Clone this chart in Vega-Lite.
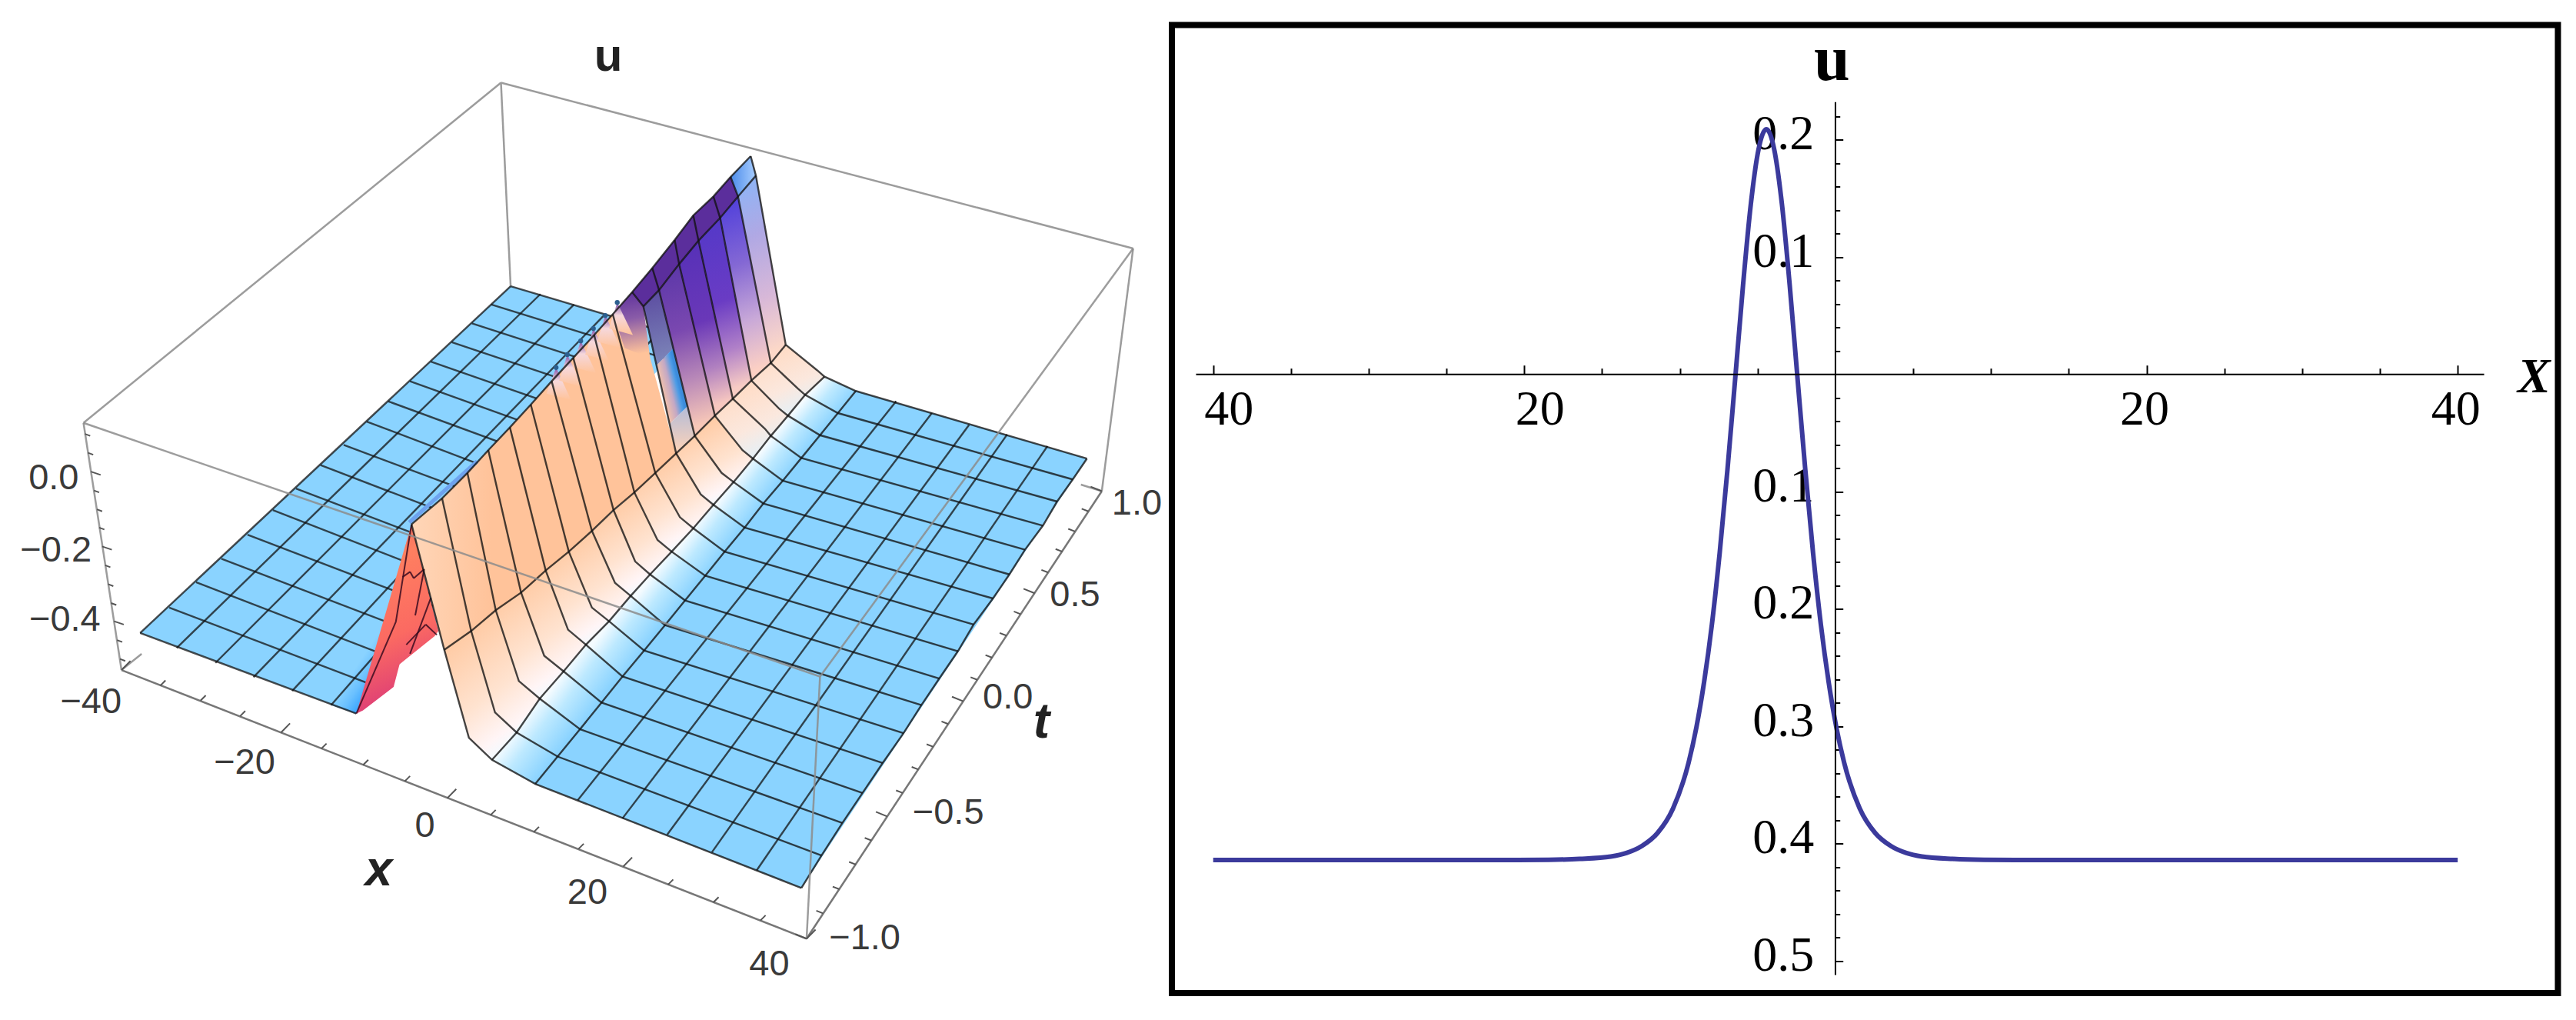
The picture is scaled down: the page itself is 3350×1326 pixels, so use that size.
{
"$schema":"https://vega.github.io/schema/vega-lite/v6.json",
"background":"white",
"padding":{"left":0,"top":28.5,"right":0,"bottom":0},
"spacing":-4,
"config":{"view":{"stroke":null}},
"datasets":{
"box":[
{"k":"b","h":672,"v":127,"h2":1520,"v2":382},
{"k":"b","h":672,"v":127,"h2":112,"v2":650},
{"k":"b","h":672,"v":127,"h2":685,"v2":440},
{"k":"b","h":1520,"v":382,"h2":1478,"v2":755},
{"k":"b","h":112,"v":650,"h2":163,"v2":1030},
{"k":"b","h":163,"v":1030,"h2":190,"v2":1005},
{"k":"b","h":1478,"v":755,"h2":1450,"v2":745},
{"k":"d","h":163,"v":1030,"h2":1082,"v2":1443},
{"k":"d","h":1082,"v":1443,"h2":1478,"v2":755},
{"k":"f","h":112,"v":650,"h2":1100,"v2":1040},
{"k":"f","h":1520,"v":382,"h2":1100,"v2":1040},
{"k":"f","h":1100,"v":1040,"h2":1082,"v2":1443}
],
"ticks":[
{"h":163,"v":1030,"h2":175,"v2":1016},{"h":215,"v":1054,"h2":222,"v2":1046},{"h":269,"v":1077,"h2":276,"v2":1069},{"h":322,"v":1101,"h2":329,"v2":1093},{"h":377,"v":1126,"h2":389,"v2":1112},{"h":431,"v":1151,"h2":438,"v2":1143},{"h":487,"v":1176,"h2":494,"v2":1168},{"h":543,"v":1201,"h2":550,"v2":1193},{"h":600,"v":1227,"h2":612,"v2":1213},{"h":658,"v":1253,"h2":665,"v2":1245},{"h":716,"v":1279,"h2":723,"v2":1271},{"h":776,"v":1305,"h2":783,"v2":1297},{"h":836,"v":1332,"h2":848,"v2":1318},{"h":896,"v":1360,"h2":903,"v2":1352},{"h":957,"v":1387,"h2":964,"v2":1379},{"h":1020,"v":1415,"h2":1027,"v2":1407},{"h":1082,"v":1443,"h2":1094,"v2":1429},
{"h":1082,"v":1443,"h2":1067,"v2":1436},{"h":1104,"v":1404,"h2":1095,"v2":1400},{"h":1126,"v":1367,"h2":1117,"v2":1363},{"h":1148,"v":1329,"h2":1139,"v2":1325},{"h":1169,"v":1292,"h2":1160,"v2":1288},{"h":1190,"v":1255,"h2":1175,"v2":1248},{"h":1211,"v":1219,"h2":1202,"v2":1215},{"h":1232,"v":1183,"h2":1223,"v2":1179},{"h":1252,"v":1148,"h2":1243,"v2":1144},{"h":1272,"v":1113,"h2":1263,"v2":1109},{"h":1292,"v":1078,"h2":1277,"v2":1071},{"h":1311,"v":1045,"h2":1302,"v2":1041},{"h":1331,"v":1011,"h2":1322,"v2":1007},{"h":1350,"v":977,"h2":1341,"v2":973},{"h":1369,"v":944,"h2":1360,"v2":940},{"h":1388,"v":912,"h2":1373,"v2":905},{"h":1406,"v":880,"h2":1397,"v2":876},{"h":1425,"v":848,"h2":1416,"v2":844},{"h":1442,"v":817,"h2":1433,"v2":813},{"h":1460,"v":786,"h2":1451,"v2":782},{"h":1478,"v":755,"h2":1463,"v2":748},
{"h":114,"v":667,"h2":121,"v2":670},{"h":118,"v":696,"h2":125,"v2":699},{"h":122,"v":725,"h2":135,"v2":730},{"h":126,"v":754,"h2":133,"v2":757},{"h":130,"v":783,"h2":137,"v2":786},{"h":133,"v":811,"h2":140,"v2":814},{"h":137,"v":840,"h2":150,"v2":845},{"h":141,"v":869,"h2":148,"v2":872},{"h":145,"v":898,"h2":152,"v2":901},{"h":149,"v":927,"h2":156,"v2":930},{"h":153,"v":955,"h2":166,"v2":960},{"h":157,"v":984,"h2":164,"v2":987},{"h":161,"v":1013,"h2":168,"v2":1016}
],
"flatlines":[
{"h":188,"v":973,"h2":478,"v2":1097},{"h":227,"v":934,"h2":509,"v2":1057},{"h":263,"v":895,"h2":539,"v2":1017},{"h":297,"v":859,"h2":569,"v2":978},{"h":332,"v":822,"h2":599,"v2":939},{"h":366,"v":784,"h2":628,"v2":901},{"h":397,"v":751,"h2":656,"v2":864},{"h":430,"v":715,"h2":685,"v2":827},{"h":461,"v":684,"h2":712,"v2":791},{"h":492,"v":648,"h2":740,"v2":756},{"h":521,"v":617,"h2":766,"v2":720},{"h":550,"v":586,"h2":793,"v2":686},{"h":578,"v":556,"h2":819,"v2":652},{"h":606,"v":526,"h2":845,"v2":618},{"h":633,"v":497,"h2":870,"v2":585},{"h":659,"v":468,"h2":895,"v2":552},{"h":685,"v":440,"h2":920,"v2":520},
{"h":188,"v":973,"h2":685,"v2":440},{"h":237,"v":996,"h2":725,"v2":452},{"h":289,"v":1019,"h2":770,"v2":468},{"h":340,"v":1041,"h2":810,"v2":485},{"h":392,"v":1062,"h2":850,"v2":497},{"h":444,"v":1084,"h2":885,"v2":508},
{"h":775,"v":1230,"h2":1202,"v2":617},{"h":835,"v":1258,"h2":1250,"v2":635},{"h":895,"v":1283,"h2":1300,"v2":653},{"h":955,"v":1310,"h2":1351,"v2":668},{"h":1015,"v":1338,"h2":1405,"v2":686}
],
"redlines":[
{"h":540,"v":887,"h2":550,"v2":879},{"h":550,"v":879,"h2":555,"v2":889},{"h":555,"v":889,"h2":569,"v2":875},{"h":569,"v":875,"h2":557,"v2":946},{"h":578,"v":919,"h2":550,"v2":1005},{"h":545,"v":991,"h2":571,"v2":960},{"h":571,"v":960,"h2":586,"v2":976},{"h":478,"v":1097,"h2":531,"v2":956},{"h":531,"v":956,"h2":552,"v2":806}
],
"tips":[{"h":746,"v":565},{"h":761,"v":545},{"h":779,"v":524},{"h":796,"v":505},{"h":812,"v":485},{"h":828,"v":465}],
"strip":[{"h":549,"v":803,"h2":640,"v2":709}],
"mesh":[
{"i":0,"l":1,"h":552,"v":806},{"i":1,"l":1,"h":593,"v":766},{"i":2,"l":1,"h":627,"v":727},{"i":3,"l":1,"h":655,"v":692},{"i":4,"l":1,"h":684,"v":657},{"i":5,"l":1,"h":712,"v":622},{"i":6,"l":1,"h":740,"v":586},{"i":7,"l":1,"h":769,"v":550},{"i":8,"l":1,"h":797,"v":515},{"i":9,"l":1,"h":822,"v":483},{"i":10,"l":1,"h":848,"v":449},{"i":11,"l":1,"h":875,"v":412},{"i":12,"l":1,"h":905,"v":369},{"i":13,"l":1,"h":930,"v":331},{"i":14,"l":1,"h":957,"v":302},{"i":15,"l":1,"h":980,"v":272},{"i":16,"l":1,"h":1007,"v":240},
{"i":10,"l":2,"h":863,"v":471},{"i":11,"l":2,"h":884,"v":446},{"i":12,"l":2,"h":911,"v":406},{"i":13,"l":2,"h":937,"v":370},{"i":14,"l":2,"h":966,"v":335},{"i":15,"l":2,"h":990,"v":302},{"i":16,"l":2,"h":1014,"v":270},
{"i":0,"l":3,"h":596,"v":999},{"i":1,"l":3,"h":632,"v":970},{"i":2,"l":3,"h":665,"v":938},{"i":3,"l":3,"h":699,"v":911},{"i":4,"l":3,"h":732,"v":877},{"i":5,"l":3,"h":763,"v":848},{"i":6,"l":3,"h":794,"v":816},{"i":7,"l":3,"h":823,"v":784},{"i":8,"l":3,"h":851,"v":757},{"i":9,"l":3,"h":879,"v":727},{"i":10,"l":3,"h":907,"v":697},{"i":11,"l":3,"h":932,"v":670},{"i":12,"l":3,"h":959,"v":639},{"i":13,"l":3,"h":983,"v":613},{"i":14,"l":3,"h":1008,"v":585},{"i":15,"l":3,"h":1034,"v":558},{"i":16,"l":3,"h":1054,"v":530},
{"i":0,"l":4,"h":629,"v":1134},{"i":1,"l":4,"h":664,"v":1095},{"i":2,"l":4,"h":696,"v":1047},{"i":3,"l":4,"h":730,"v":1008},{"i":4,"l":4,"h":762,"v":968},{"i":5,"l":4,"h":794,"v":934},{"i":6,"l":4,"h":825,"v":896},{"i":7,"l":4,"h":852,"v":863},{"i":8,"l":4,"h":882,"v":830},{"i":9,"l":4,"h":912,"v":795},{"i":10,"l":4,"h":940,"v":760},{"i":11,"l":4,"h":968,"v":727},{"i":12,"l":4,"h":996,"v":692},{"i":13,"l":4,"h":1026,"v":659},{"i":14,"l":4,"h":1045,"v":628},{"i":15,"l":4,"h":1070,"v":597},{"i":16,"l":4,"h":1096,"v":569},
{"i":0,"l":5,"h":660,"v":1168},{"i":1,"l":5,"h":693,"v":1126},{"i":2,"l":5,"h":724,"v":1074},{"i":3,"l":5,"h":756,"v":1032},{"i":4,"l":5,"h":786,"v":991},{"i":5,"l":5,"h":817,"v":955},{"i":6,"l":5,"h":846,"v":916},{"i":7,"l":5,"h":872,"v":883},{"i":8,"l":5,"h":901,"v":848},{"i":9,"l":5,"h":930,"v":812},{"i":10,"l":5,"h":957,"v":776},{"i":11,"l":5,"h":984,"v":741},{"i":12,"l":5,"h":1010,"v":705},{"i":13,"l":5,"h":1034,"v":670},{"i":14,"l":5,"h":1057,"v":639},{"i":15,"l":5,"h":1080,"v":607},{"i":16,"l":5,"h":1106,"v":579},
{"i":0,"l":6,"h":718,"v":1205},{"i":1,"l":6,"h":748,"v":1163},{"i":2,"l":6,"h":778,"v":1121},{"i":3,"l":6,"h":807,"v":1080},{"i":4,"l":6,"h":835,"v":1040},{"i":5,"l":6,"h":864,"v":1000},{"i":6,"l":6,"h":892,"v":961},{"i":7,"l":6,"h":919,"v":923},{"i":8,"l":6,"h":946,"v":885},{"i":9,"l":6,"h":972,"v":848},{"i":10,"l":6,"h":999,"v":811},{"i":11,"l":6,"h":1024,"v":774},{"i":12,"l":6,"h":1050,"v":739},{"i":13,"l":6,"h":1075,"v":704},{"i":14,"l":6,"h":1100,"v":669},{"i":15,"l":6,"h":1124,"v":635},{"i":16,"l":6,"h":1148,"v":601},
{"i":0,"l":7,"h":1075,"v":1365},{"i":1,"l":7,"h":1102,"v":1315},{"i":2,"l":7,"h":1130,"v":1265},{"i":3,"l":7,"h":1157,"v":1219},{"i":4,"l":7,"h":1184,"v":1173},{"i":5,"l":7,"h":1212,"v":1127},{"i":6,"l":7,"h":1236,"v":1084},{"i":7,"l":7,"h":1260,"v":1043},{"i":8,"l":7,"h":1285,"v":1001},{"i":9,"l":7,"h":1306,"v":960},{"i":10,"l":7,"h":1332,"v":920},{"i":11,"l":7,"h":1354,"v":883},{"i":12,"l":7,"h":1375,"v":845},{"i":13,"l":7,"h":1399,"v":808},{"i":14,"l":7,"h":1418,"v":771},{"i":15,"l":7,"h":1439,"v":737},{"i":16,"l":7,"h":1458,"v":705}
],
"cells":[
{"g":"flatL","p":0,"o":0,"h":188,"v":973},{"g":"flatL","p":0,"o":1,"h":478,"v":1097},{"g":"flatL","p":0,"o":2,"h":920,"v":520},{"g":"flatL","p":0,"o":3,"h":685,"v":440},
{"g":"flatD","p":0,"o":0,"h":444,"v":1084},{"g":"flatD","p":0,"o":1,"h":478,"v":1097},{"g":"flatD","p":0,"o":2,"h":530,"v":960},{"g":"flatD","p":0,"o":3,"h":516,"v":958},
{"g":"flatR","p":0,"o":0,"h":718,"v":1205},{"g":"flatR","p":0,"o":1,"h":1075,"v":1365},{"g":"flatR","p":0,"o":2,"h":1458,"v":705},{"g":"flatR","p":0,"o":3,"h":1148,"v":601},
{"g":"blue","p":0,"o":0,"h":660,"v":1168},{"g":"blue","p":0,"o":1,"h":724,"v":1074},{"g":"blue","p":0,"o":2,"h":778,"v":1121},{"g":"blue","p":0,"o":3,"h":718,"v":1205},
{"g":"blue","p":2,"o":0,"h":724,"v":1074},{"g":"blue","p":2,"o":1,"h":786,"v":991},{"g":"blue","p":2,"o":2,"h":835,"v":1040},{"g":"blue","p":2,"o":3,"h":778,"v":1121},
{"g":"blue","p":4,"o":0,"h":786,"v":991},{"g":"blue","p":4,"o":1,"h":846,"v":916},{"g":"blue","p":4,"o":2,"h":892,"v":961},{"g":"blue","p":4,"o":3,"h":835,"v":1040},
{"g":"blue","p":6,"o":0,"h":846,"v":916},{"g":"blue","p":6,"o":1,"h":901,"v":848},{"g":"blue","p":6,"o":2,"h":946,"v":885},{"g":"blue","p":6,"o":3,"h":892,"v":961},
{"g":"blue","p":8,"o":0,"h":901,"v":848},{"g":"blue","p":8,"o":1,"h":957,"v":776},{"g":"blue","p":8,"o":2,"h":999,"v":811},{"g":"blue","p":8,"o":3,"h":946,"v":885},
{"g":"blue","p":10,"o":0,"h":957,"v":776},{"g":"blue","p":10,"o":1,"h":1010,"v":705},{"g":"blue","p":10,"o":2,"h":1050,"v":739},{"g":"blue","p":10,"o":3,"h":999,"v":811},
{"g":"blue","p":12,"o":0,"h":1010,"v":705},{"g":"blue","p":12,"o":1,"h":1057,"v":639},{"g":"blue","p":12,"o":2,"h":1100,"v":669},{"g":"blue","p":12,"o":3,"h":1050,"v":739},
{"g":"blue","p":14,"o":0,"h":1057,"v":639},{"g":"blue","p":14,"o":1,"h":1106,"v":579},{"g":"blue","p":14,"o":2,"h":1148,"v":601},{"g":"blue","p":14,"o":3,"h":1100,"v":669},
{"g":"low","p":0,"o":0,"h":596,"v":999},{"g":"low","p":0,"o":1,"h":629,"v":1134},{"g":"low","p":0,"o":2,"h":660,"v":1168},{"g":"low","p":0,"o":3,"h":724,"v":1074},{"g":"low","p":0,"o":4,"h":696,"v":1047},{"g":"low","p":0,"o":5,"h":665,"v":938},
{"g":"low","p":2,"o":0,"h":665,"v":938},{"g":"low","p":2,"o":1,"h":696,"v":1047},{"g":"low","p":2,"o":2,"h":724,"v":1074},{"g":"low","p":2,"o":3,"h":786,"v":991},{"g":"low","p":2,"o":4,"h":762,"v":968},{"g":"low","p":2,"o":5,"h":732,"v":877},
{"g":"low","p":4,"o":0,"h":732,"v":877},{"g":"low","p":4,"o":1,"h":762,"v":968},{"g":"low","p":4,"o":2,"h":786,"v":991},{"g":"low","p":4,"o":3,"h":846,"v":916},{"g":"low","p":4,"o":4,"h":825,"v":896},{"g":"low","p":4,"o":5,"h":794,"v":816},
{"g":"low","p":6,"o":0,"h":794,"v":816},{"g":"low","p":6,"o":1,"h":825,"v":896},{"g":"low","p":6,"o":2,"h":846,"v":916},{"g":"low","p":6,"o":3,"h":901,"v":848},{"g":"low","p":6,"o":4,"h":882,"v":830},{"g":"low","p":6,"o":5,"h":851,"v":757},
{"g":"low","p":8,"o":0,"h":851,"v":757},{"g":"low","p":8,"o":1,"h":882,"v":830},{"g":"low","p":8,"o":2,"h":901,"v":848},{"g":"low","p":8,"o":3,"h":957,"v":776},{"g":"low","p":8,"o":4,"h":940,"v":760},{"g":"low","p":8,"o":5,"h":907,"v":697},
{"g":"low","p":10,"o":0,"h":907,"v":697},{"g":"low","p":10,"o":1,"h":940,"v":760},{"g":"low","p":10,"o":2,"h":957,"v":776},{"g":"low","p":10,"o":3,"h":1010,"v":705},{"g":"low","p":10,"o":4,"h":996,"v":692},{"g":"low","p":10,"o":5,"h":959,"v":639},
{"g":"lowB","p":12,"o":0,"h":959,"v":639},{"g":"lowB","p":12,"o":1,"h":996,"v":692},{"g":"lowB","p":12,"o":2,"h":1010,"v":705},{"g":"lowB","p":12,"o":3,"h":1057,"v":639},{"g":"lowB","p":12,"o":4,"h":1045,"v":628},{"g":"lowB","p":12,"o":5,"h":1008,"v":585},
{"g":"lowB","p":14,"o":0,"h":1008,"v":585},{"g":"lowB","p":14,"o":1,"h":1045,"v":628},{"g":"lowB","p":14,"o":2,"h":1057,"v":639},{"g":"lowB","p":14,"o":3,"h":1106,"v":579},{"g":"lowB","p":14,"o":4,"h":1096,"v":569},{"g":"lowB","p":14,"o":5,"h":1054,"v":530},
{"g":"up","p":0,"o":0,"h":552,"v":806},{"g":"up","p":0,"o":1,"h":593,"v":766},{"g":"up","p":0,"o":2,"h":627,"v":727},{"g":"up","p":0,"o":3,"h":655,"v":692},{"g":"up","p":0,"o":4,"h":684,"v":657},{"g":"up","p":0,"o":5,"h":712,"v":622},{"g":"up","p":0,"o":6,"h":740,"v":586},{"g":"up","p":0,"o":7,"h":769,"v":550},{"g":"up","p":0,"o":8,"h":797,"v":515},{"g":"up","p":0,"o":9,"h":822,"v":483},{"g":"up","p":0,"o":10,"h":848,"v":449},{"g":"up","p":0,"o":11,"h":907,"v":697},{"g":"up","p":0,"o":12,"h":879,"v":727},{"g":"up","p":0,"o":13,"h":851,"v":757},{"g":"up","p":0,"o":14,"h":823,"v":784},{"g":"up","p":0,"o":15,"h":794,"v":816},{"g":"up","p":0,"o":16,"h":763,"v":848},{"g":"up","p":0,"o":17,"h":732,"v":877},{"g":"up","p":0,"o":18,"h":699,"v":911},{"g":"up","p":0,"o":19,"h":665,"v":938},{"g":"up","p":0,"o":20,"h":632,"v":970},{"g":"up","p":0,"o":21,"h":596,"v":999},
{"g":"c9","p":0,"o":0,"h":822,"v":483},{"g":"c9","p":0,"o":1,"h":848,"v":449},{"g":"c9","p":0,"o":2,"h":863,"v":471},{"g":"c9","p":0,"o":3,"h":872,"v":550},{"g":"c9","p":0,"o":4,"h":838,"v":535},
{"g":"top","p":0,"o":0,"h":848,"v":449},{"g":"top","p":0,"o":1,"h":875,"v":412},{"g":"top","p":0,"o":2,"h":905,"v":369},{"g":"top","p":0,"o":3,"h":930,"v":331},{"g":"top","p":0,"o":4,"h":957,"v":302},{"g":"top","p":0,"o":5,"h":980,"v":272},{"g":"top","p":0,"o":6,"h":990,"v":302},{"g":"top","p":0,"o":7,"h":966,"v":335},{"g":"top","p":0,"o":8,"h":937,"v":370},{"g":"top","p":0,"o":9,"h":911,"v":406},{"g":"top","p":0,"o":10,"h":884,"v":446},{"g":"top","p":0,"o":11,"h":863,"v":471},
{"g":"top15","p":0,"o":0,"h":980,"v":272},{"g":"top15","p":0,"o":1,"h":1007,"v":240},{"g":"top15","p":0,"o":2,"h":1014,"v":270},{"g":"top15","p":0,"o":3,"h":990,"v":302},
{"g":"c10a","p":0,"o":0,"h":863,"v":471},{"g":"c10a","p":0,"o":1,"h":884,"v":446},{"g":"c10a","p":0,"o":2,"h":903,"v":536},{"g":"c10a","p":0,"o":3,"h":881,"v":561},
{"g":"c10b","p":0,"o":0,"h":881,"v":561},{"g":"c10b","p":0,"o":1,"h":903,"v":536},{"g":"c10b","p":0,"o":2,"h":922,"v":625},{"g":"c10b","p":0,"o":3,"h":898,"v":652},
{"g":"c10c","p":0,"o":0,"h":898,"v":652},{"g":"c10c","p":0,"o":1,"h":922,"v":625},{"g":"c10c","p":0,"o":2,"h":932,"v":670},{"g":"c10c","p":0,"o":3,"h":907,"v":697},
{"g":"c11","p":0,"o":0,"h":884,"v":446},{"g":"c11","p":0,"o":1,"h":911,"v":406},{"g":"c11","p":0,"o":2,"h":959,"v":639},{"g":"c11","p":0,"o":3,"h":932,"v":670},
{"g":"c12","p":0,"o":0,"h":911,"v":406},{"g":"c12","p":0,"o":1,"h":937,"v":370},{"g":"c12","p":0,"o":2,"h":983,"v":613},{"g":"c12","p":0,"o":3,"h":959,"v":639},
{"g":"c13","p":0,"o":0,"h":937,"v":370},{"g":"c13","p":0,"o":1,"h":966,"v":335},{"g":"c13","p":0,"o":2,"h":1008,"v":585},{"g":"c13","p":0,"o":3,"h":983,"v":613},
{"g":"c14","p":0,"o":0,"h":966,"v":335},{"g":"c14","p":0,"o":1,"h":990,"v":302},{"g":"c14","p":0,"o":2,"h":1034,"v":558},{"g":"c14","p":0,"o":3,"h":1008,"v":585},
{"g":"c15","p":0,"o":0,"h":990,"v":302},{"g":"c15","p":0,"o":1,"h":1014,"v":270},{"g":"c15","p":0,"o":2,"h":1054,"v":530},{"g":"c15","p":0,"o":3,"h":1034,"v":558},
{"g":"tooth","p":1,"o":0,"h":746,"v":565},{"g":"tooth","p":1,"o":1,"h":766,"v":615},{"g":"tooth","p":1,"o":2,"h":733,"v":605},
{"g":"tooth","p":2,"o":0,"h":761,"v":545},{"g":"tooth","p":2,"o":1,"h":782,"v":595},{"g":"tooth","p":2,"o":2,"h":750,"v":585},
{"g":"tooth","p":3,"o":0,"h":779,"v":524},{"g":"tooth","p":3,"o":1,"h":800,"v":574},{"g":"tooth","p":3,"o":2,"h":768,"v":564},
{"g":"tooth","p":4,"o":0,"h":796,"v":505},{"g":"tooth","p":4,"o":1,"h":817,"v":555},{"g":"tooth","p":4,"o":2,"h":785,"v":545},
{"g":"tooth","p":5,"o":0,"h":812,"v":485},{"g":"tooth","p":5,"o":1,"h":833,"v":535},{"g":"tooth","p":5,"o":2,"h":801,"v":525},
{"g":"tooth","p":6,"o":0,"h":828,"v":465},{"g":"tooth","p":6,"o":1,"h":849,"v":515},{"g":"tooth","p":6,"o":2,"h":817,"v":505},
{"g":"red","p":0,"o":0,"h":478,"v":1097},{"g":"red","p":0,"o":1,"h":552,"v":806},{"g":"red","p":0,"o":2,"h":588,"v":970},{"g":"red","p":0,"o":3,"h":583,"v":978},{"g":"red","p":0,"o":4,"h":536,"v":1021},{"g":"red","p":0,"o":5,"h":528,"v":1056},{"g":"red","p":0,"o":6,"h":487,"v":1092}
],
"labels":[
{"k":"n","t":"0.0","h":72,"v":735},{"k":"n","t":"−0.2","h":75,"v":847},{"k":"n","t":"−0.4","h":87,"v":953},
{"k":"n","t":"−40","h":122,"v":1080},{"k":"n","t":"−20","h":328,"v":1173},{"k":"n","t":"0","h":570,"v":1270},{"k":"n","t":"20","h":788,"v":1373},{"k":"n","t":"40","h":1032,"v":1483},
{"k":"n","t":"1.0","h":1525,"v":775},{"k":"n","t":"0.5","h":1442,"v":915},{"k":"n","t":"0.0","h":1352,"v":1073},{"k":"n","t":"−0.5","h":1272,"v":1250},{"k":"n","t":"−1.0","h":1160,"v":1443},
{"k":"a","t":"x","h":508,"v":1338},{"k":"a","t":"t","h":1397,"v":1112},
{"k":"u","t":"u","h":816,"v":88}
],
"curve":[
{"x":-40,"u":-0.414},{"x":-30,"u":-0.414},{"x":-20.44,"u":-0.414},{"x":-18.44,"u":-0.4138},{"x":-16.44,"u":-0.413},{"x":-14.44,"u":-0.411},{"x":-13.44,"u":-0.408},{"x":-12.44,"u":-0.402},{"x":-11.44,"u":-0.391},{"x":-10.44,"u":-0.37},{"x":-9.44,"u":-0.331},{"x":-8.94,"u":-0.301},{"x":-8.44,"u":-0.262},{"x":-7.94,"u":-0.213},{"x":-7.44,"u":-0.152},{"x":-6.94,"u":-0.081},{"x":-6.44,"u":-0.003},{"x":-5.94,"u":0.076},{"x":-5.44,"u":0.145},{"x":-4.94,"u":0.192},{"x":-4.44,"u":0.209},{"x":-3.94,"u":0.192},{"x":-3.44,"u":0.145},{"x":-2.94,"u":0.076},{"x":-2.44,"u":-0.003},{"x":-1.94,"u":-0.081},{"x":-1.44,"u":-0.152},{"x":-0.94,"u":-0.213},{"x":-0.44,"u":-0.262},{"x":0.06,"u":-0.301},{"x":0.56,"u":-0.331},{"x":1.56,"u":-0.37},{"x":2.56,"u":-0.391},{"x":3.56,"u":-0.402},{"x":4.56,"u":-0.408},{"x":5.56,"u":-0.411},{"x":7.56,"u":-0.413},{"x":9.56,"u":-0.4138},{"x":11.56,"u":-0.414},{"x":20,"u":-0.414},{"x":30,"u":-0.414},{"x":40,"u":-0.414}
]
},
"hconcat":[
{
"width":1524,"height":1258.5,
"view":{"stroke":null},
"encoding":{
"x":{"field":"h","type":"quantitative","scale":{"domain":[0,1572],"nice":false,"zero":false},"axis":null},
"y":{"field":"v","type":"quantitative","scale":{"domain":[1526.6,38.4],"nice":false,"zero":false},"axis":null}
},
"layer":[
{"data":{"name":"box"},"transform":[{"filter":"datum.k==='b'"}],"mark":{"type":"rule","stroke":"#9c9c9c","strokeWidth":2.5},"encoding":{"x2":{"field":"h2"},"y2":{"field":"v2"}}},
{"data":{"name":"box"},"transform":[{"filter":"datum.k==='d'"}],"mark":{"type":"rule","stroke":"#777777","strokeWidth":2.5},"encoding":{"x2":{"field":"h2"},"y2":{"field":"v2"}}},
{"data":{"name":"cells"},"transform":[{"filter":"datum.g==='flatL'"}],"mark":{"type":"line","fill":"#8AD3FF","stroke":null},"encoding":{"detail":{"field":"p","type":"nominal"},"order":{"field":"o","type":"quantitative"}}},
{"data":{"name":"cells"},"transform":[{"filter":"datum.g==='flatD'"}],"mark":{"type":"line","stroke":null,"fill":{"gradient":"linear","x1":0,"y1":0.9,"x2":0.264,"y2":1.146,"stops":[{"offset":0,"color":"#8AD3FF"},{"offset":0.5,"color":"#6AC0FF"},{"offset":1,"color":"#38A4FF"}]}},"encoding":{"detail":{"field":"p","type":"nominal"},"order":{"field":"o","type":"quantitative"}}},
{"data":{"name":"flatlines"},"mark":{"type":"rule","stroke":"#111111","strokeWidth":2.4,"opacity":0.75},"encoding":{"x2":{"field":"h2"},"y2":{"field":"v2"}}},
{"data":{"name":"cells"},"transform":[{"filter":"datum.g==='flatR'"}],"mark":{"type":"line","fill":"#8AD3FF","stroke":null},"encoding":{"detail":{"field":"p","type":"nominal"},"order":{"field":"o","type":"quantitative"}}},
{"data":{"name":"flatlines"},"transform":[{"filter":"datum.h>700"}],"mark":{"type":"rule","stroke":"#111111","strokeWidth":2.4,"opacity":0.75},"encoding":{"x2":{"field":"h2"},"y2":{"field":"v2"}}},
{"data":{"name":"cells"},"transform":[{"filter":"datum.g==='blue'"}],"mark":{"type":"line","stroke":null,"fill":{"gradient":"linear","x1":0,"y1":0.72,"x2":0.45,"y2":1.05,"stops":[{"offset":0,"color":"#F4FBFF"},{"offset":0.4,"color":"#BDE9FF"},{"offset":1,"color":"#8AD3FF"}]}},"encoding":{"detail":{"field":"p","type":"nominal"},"order":{"field":"o","type":"quantitative"}}},
{"data":{"name":"cells"},"transform":[{"filter":"datum.g==='low'"}],"mark":{"type":"line","stroke":null,"fill":{"gradient":"linear","x1":0,"y1":0.265,"x2":0.39,"y2":1.05,"stops":[{"offset":0,"color":"#FFCBA5"},{"offset":0.55,"color":"#FFE3D0"},{"offset":0.88,"color":"#FFF5F6"},{"offset":1,"color":"#F4FAFF"}]}},"encoding":{"detail":{"field":"p","type":"nominal"},"order":{"field":"o","type":"quantitative"}}},
{"data":{"name":"cells"},"transform":[{"filter":"datum.g==='lowB'"}],"mark":{"type":"line","stroke":null,"fill":{"gradient":"linear","x1":0,"y1":0.265,"x2":0.39,"y2":1.05,"stops":[{"offset":0,"color":"#FFDCC6"},{"offset":0.6,"color":"#FBE8DE"},{"offset":1,"color":"#E6F0F6"}]}},"encoding":{"detail":{"field":"p","type":"nominal"},"order":{"field":"o","type":"quantitative"}}},
{"data":{"name":"cells"},"transform":[{"filter":"datum.g==='up'"}],"mark":{"type":"line","stroke":null,"fill":{"gradient":"linear","x1":0,"y1":0,"x2":0.3,"y2":0,"stops":[{"offset":0,"color":"#FFD6B8"},{"offset":1,"color":"#FFC39A"}]}},"encoding":{"detail":{"field":"p","type":"nominal"},"order":{"field":"o","type":"quantitative"}}},
{"data":{"name":"cells"},"transform":[{"filter":"datum.g==='c9'"}],"mark":{"type":"line","stroke":null,"fill":{"gradient":"linear","x1":0,"y1":0,"x2":0.1,"y2":1,"stops":[{"offset":0,"color":"#5B2E9C"},{"offset":0.45,"color":"#8A5CA8"},{"offset":1,"color":"#FFC39A"}]}},"encoding":{"detail":{"field":"p","type":"nominal"},"order":{"field":"o","type":"quantitative"}}},
{"data":{"name":"cells"},"transform":[{"filter":"datum.g==='top'"}],"mark":{"type":"line","fill":"#5B2E9C","stroke":null},"encoding":{"detail":{"field":"p","type":"nominal"},"order":{"field":"o","type":"quantitative"}}},
{"data":{"name":"cells"},"transform":[{"filter":"datum.g==='top15'"}],"mark":{"type":"line","stroke":null,"fill":{"gradient":"linear","x1":0,"y1":0,"x2":1,"y2":0,"stops":[{"offset":0,"color":"#4C8CEA"},{"offset":1,"color":"#A8CDFF"}]}},"encoding":{"detail":{"field":"p","type":"nominal"},"order":{"field":"o","type":"quantitative"}}},
{"data":{"name":"cells"},"transform":[{"filter":"datum.g==='c10a'"}],"mark":{"type":"line","stroke":null,"fill":{"gradient":"linear","x1":0,"y1":0,"x2":0.1,"y2":1,"stops":[{"offset":0,"color":"#5A4AA0"},{"offset":1,"color":"#7C84B8"}]}},"encoding":{"detail":{"field":"p","type":"nominal"},"order":{"field":"o","type":"quantitative"}}},
{"data":{"name":"cells"},"transform":[{"filter":"datum.g==='c10b'"}],"mark":{"type":"line","stroke":null,"fill":{"gradient":"linear","x1":0,"y1":0.4,"x2":0.5,"y2":0.1,"stops":[{"offset":0,"color":"#FFC8A4"},{"offset":0.55,"color":"#C4A8C4"},{"offset":0.88,"color":"#4C9CE6"},{"offset":1,"color":"#3C8CDC"}]}},"encoding":{"detail":{"field":"p","type":"nominal"},"order":{"field":"o","type":"quantitative"}}},
{"data":{"name":"cells"},"transform":[{"filter":"datum.g==='c10c'"}],"mark":{"type":"line","stroke":null,"fill":{"gradient":"linear","x1":0,"y1":0,"x2":0,"y2":1,"stops":[{"offset":0,"color":"#B4BCD8"},{"offset":1,"color":"#FFD4B8"}]}},"encoding":{"detail":{"field":"p","type":"nominal"},"order":{"field":"o","type":"quantitative"}}},
{"data":{"name":"cells"},"transform":[{"filter":"datum.g==='c11'"}],"mark":{"type":"line","stroke":null,"fill":{"gradient":"linear","x1":0,"y1":0,"x2":0.1,"y2":1,"stops":[{"offset":0,"color":"#5A36A8"},{"offset":0.42,"color":"#7A48B0"},{"offset":0.72,"color":"#B888B8"},{"offset":1,"color":"#F8C8B8"}]}},"encoding":{"detail":{"field":"p","type":"nominal"},"order":{"field":"o","type":"quantitative"}}},
{"data":{"name":"cells"},"transform":[{"filter":"datum.g==='c12'"}],"mark":{"type":"line","stroke":null,"fill":{"gradient":"linear","x1":0,"y1":0,"x2":0.1,"y2":1,"stops":[{"offset":0,"color":"#5530B8"},{"offset":0.5,"color":"#6A38B8"},{"offset":0.78,"color":"#B080C0"},{"offset":1,"color":"#F8C8C0"}]}},"encoding":{"detail":{"field":"p","type":"nominal"},"order":{"field":"o","type":"quantitative"}}},
{"data":{"name":"cells"},"transform":[{"filter":"datum.g==='c13'"}],"mark":{"type":"line","stroke":null,"fill":{"gradient":"linear","x1":0,"y1":0,"x2":0.1,"y2":1,"stops":[{"offset":0,"color":"#5238C8"},{"offset":0.5,"color":"#6A3CC4"},{"offset":0.78,"color":"#B080C8"},{"offset":1,"color":"#F8CCC4"}]}},"encoding":{"detail":{"field":"p","type":"nominal"},"order":{"field":"o","type":"quantitative"}}},
{"data":{"name":"cells"},"transform":[{"filter":"datum.g==='c14'"}],"mark":{"type":"line","stroke":null,"fill":{"gradient":"linear","x1":0,"y1":0,"x2":0.1,"y2":1,"stops":[{"offset":0,"color":"#4C3CDC"},{"offset":0.4,"color":"#8468D4"},{"offset":0.72,"color":"#C8A8D8"},{"offset":1,"color":"#FCD0C4"}]}},"encoding":{"detail":{"field":"p","type":"nominal"},"order":{"field":"o","type":"quantitative"}}},
{"data":{"name":"cells"},"transform":[{"filter":"datum.g==='c15'"}],"mark":{"type":"line","stroke":null,"fill":{"gradient":"linear","x1":0,"y1":0,"x2":0.1,"y2":1,"stops":[{"offset":0,"color":"#8AB6F8"},{"offset":0.35,"color":"#B0A8E4"},{"offset":0.7,"color":"#D8B8D8"},{"offset":1,"color":"#FCD8C8"}]}},"encoding":{"detail":{"field":"p","type":"nominal"},"order":{"field":"o","type":"quantitative"}}},
{"data":{"name":"cells"},"transform":[{"filter":"datum.g==='tooth'"}],"mark":{"type":"line","stroke":null,"fill":{"gradient":"linear","x1":0,"y1":0,"x2":0,"y2":1,"stops":[{"offset":0,"color":"#7A4CA8"},{"offset":0.4,"color":"#F6D8DC"},{"offset":1,"color":"#FFC39A"}]}},"encoding":{"detail":{"field":"p","type":"nominal"},"order":{"field":"o","type":"quantitative"}}},
{"data":{"name":"cells"},"transform":[{"filter":"datum.g==='red'"}],"mark":{"type":"line","stroke":null,"fill":{"gradient":"linear","x1":0.3,"y1":0,"x2":0.5,"y2":1,"stops":[{"offset":0,"color":"#E8685E"},{"offset":0.2,"color":"#FF7F60"},{"offset":0.6,"color":"#FB6A62"},{"offset":1,"color":"#D8357A"}]}},"encoding":{"detail":{"field":"p","type":"nominal"},"order":{"field":"o","type":"quantitative"}}},
{"data":{"name":"redlines"},"mark":{"type":"rule","stroke":"#3a0c20","strokeWidth":2,"opacity":0.85},"encoding":{"x2":{"field":"h2"},"y2":{"field":"v2"}}},
{"data":{"name":"strip"},"mark":{"type":"rule","stroke":"#6ea2ee","strokeWidth":5},"encoding":{"x2":{"field":"h2"},"y2":{"field":"v2"}}},
{"data":{"name":"mesh"},"mark":{"type":"line","stroke":"#111111","strokeWidth":2.4,"opacity":0.78},"encoding":{"detail":{"field":"i","type":"nominal"},"order":{"field":"l","type":"quantitative"}}},
{"data":{"name":"mesh"},"transform":[{"filter":"datum.l!==4"}],"mark":{"type":"line","stroke":"#111111","strokeWidth":2.4,"opacity":0.78},"encoding":{"detail":{"field":"l","type":"nominal"},"order":{"field":"i","type":"quantitative"}}},
{"data":{"name":"tips"},"mark":{"type":"point","filled":true,"color":"#2c5f8f","size":40,"opacity":1}},
{"data":{"name":"box"},"transform":[{"filter":"datum.k==='f'"}],"mark":{"type":"rule","stroke":"#8c8c8c","strokeWidth":2.5,"opacity":0.85},"encoding":{"x2":{"field":"h2"},"y2":{"field":"v2"}}},
{"data":{"name":"ticks"},"mark":{"type":"rule","stroke":"#555555","strokeWidth":2},"encoding":{"x2":{"field":"h2"},"y2":{"field":"v2"}}},
{"data":{"name":"labels"},"transform":[{"filter":"datum.k==='n'"}],"mark":{"type":"text","font":"Liberation Sans","fontSize":47,"fill":"#3a3a3a","baseline":"middle","align":"center"},"encoding":{"text":{"field":"t"}}},
{"data":{"name":"labels"},"transform":[{"filter":"datum.k==='a'"}],"mark":{"type":"text","font":"Liberation Sans","fontSize":64,"fontWeight":"bold","fontStyle":"italic","fill":"#222222","baseline":"middle","align":"center"},"encoding":{"text":{"field":"t"}}},
{"data":{"name":"labels"},"transform":[{"filter":"datum.k==='u'"}],"mark":{"type":"text","font":"Liberation Sans","fontSize":60,"fontWeight":"bold","fill":"#222222","baseline":"middle","align":"center"},"encoding":{"text":{"field":"t"}}}
]
},
{
"width":1802.5,"height":1258.5,
"view":{"stroke":"#000000","strokeWidth":8,"fill":"white"},
"resolve":{"axis":{"x":"independent","y":"independent"}},
"layer":[
{"data":{"name":"curve"},
"mark":{"type":"line","interpolate":"monotone","stroke":"#3b3a9c","strokeWidth":6},
"encoding":{
"x":{"field":"x","type":"quantitative","scale":{"domain":[-42.655,46.443],"nice":false,"zero":false},
"axis":{"title":null,"orient":"bottom","offset":-804.3,"values":[-40,-20,20,40],"grid":false,"domain":false,"tickSize":-12,"tickWidth":2,"tickColor":"#000000","labelPadding":26,"labelFont":"Liberation Serif","labelFontSize":64,"labelColor":"#000000","labelOverlap":false,"labelFlush":false,"labelBound":false,"labelExpr":"format(abs(datum.value),'d')","labelOffset":{"condition":{"test":"datum.value<0","value":20},"value":-3}}},
"y":{"field":"u","type":"quantitative","scale":{"domain":[-0.5274,0.2978],"nice":false,"zero":false},
"axis":{"title":null,"orient":"left","offset":-862.7,"values":[-0.5,-0.4,-0.3,-0.2,-0.1,0.1,0.2],"grid":false,"domain":false,"tickSize":-10,"tickWidth":2,"tickColor":"#000000","labelPadding":38,"labelFont":"Liberation Serif","labelFontSize":64,"labelColor":"#000000","labelOverlap":false,"labelFlush":false,"labelBound":false,"labelOffset":-7,"labelExpr":"format(abs(datum.value),'.1f')"}}
}},
{"data":{"values":[{"a":-41.1,"b":41.7,"c":0}]},
"mark":{"type":"rule","stroke":"#000000","strokeWidth":2},
"encoding":{
"x":{"field":"a","type":"quantitative","axis":{"title":null,"orient":"bottom","offset":-804.3,"values":[-35,-30,-25,-15,-10,-5,5,10,15,25,30,35],"grid":false,"domain":false,"labels":false,"tickSize":-8,"tickWidth":2,"tickColor":"#000000"}},
"x2":{"field":"b"},
"y":{"field":"c","type":"quantitative","axis":null}
}},
{"data":{"values":[{"a":0,"b":0.232,"c":-0.512}]},
"mark":{"type":"rule","stroke":"#000000","strokeWidth":2},
"encoding":{
"x":{"field":"a","type":"quantitative","axis":null},
"y":{"field":"b","type":"quantitative","axis":{"title":null,"orient":"left","offset":-862.7,"values":[-0.48,-0.46,-0.44,-0.42,-0.38,-0.36,-0.34,-0.32,-0.28,-0.26,-0.24,-0.22,-0.18,-0.16,-0.14,-0.12,-0.08,-0.06,-0.04,-0.02,0.02,0.04,0.06,0.08,0.12,0.14,0.16,0.18,0.22],"grid":false,"domain":false,"labels":false,"tickSize":-6,"tickWidth":2,"tickColor":"#000000"}},
"y2":{"field":"c"}
}},
{"data":{"values":[{"x":-0.23,"y":0.267,"t":"u"}]},
"mark":{"type":"text","font":"Liberation Serif","fontSize":84,"fontWeight":"bold","baseline":"middle","align":"center","fill":"#000000"},
"encoding":{"x":{"field":"x","type":"quantitative","axis":null},"y":{"field":"y","type":"quantitative","axis":null},"text":{"field":"t"}}},
{"data":{"values":[{"x":44.9,"y":-0.003,"t":"X"}]},
"mark":{"type":"text","font":"Liberation Serif","fontSize":64,"fontWeight":"bold","fontStyle":"italic","baseline":"middle","align":"center","fill":"#000000"},
"encoding":{"x":{"field":"x","type":"quantitative","axis":null},"y":{"field":"y","type":"quantitative","axis":null},"text":{"field":"t"}}}
]
}
]
}
